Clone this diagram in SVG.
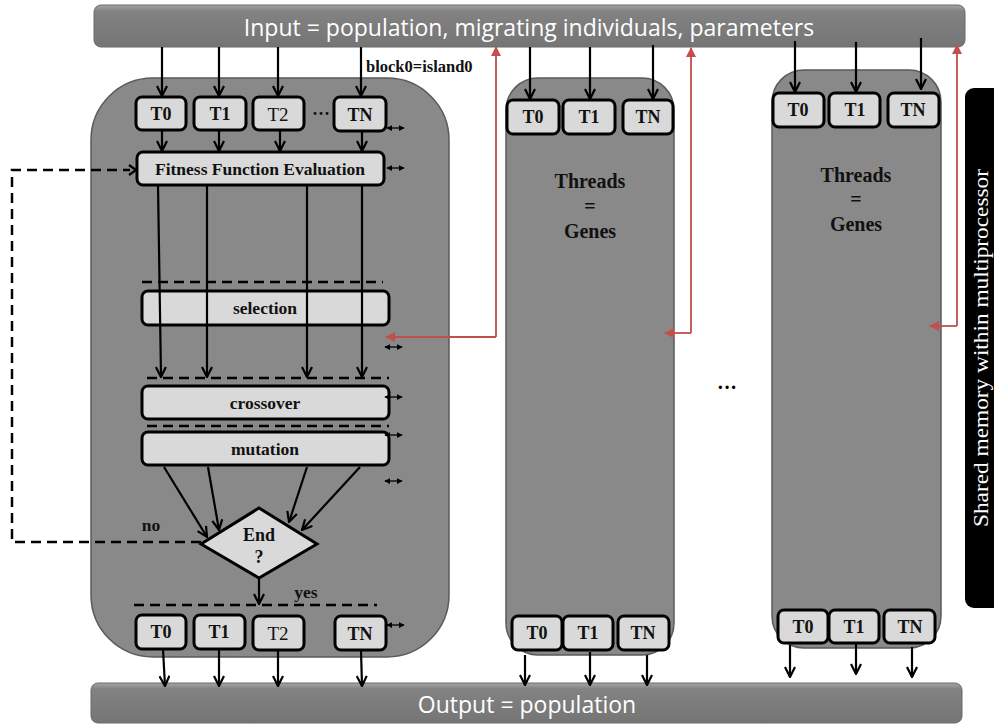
<svg xmlns="http://www.w3.org/2000/svg" width="994" height="726" viewBox="0 0 994 726">
<defs>
<marker id="ah" viewBox="0 0 12 12" refX="11" refY="6" markerWidth="12" markerHeight="12" markerUnits="userSpaceOnUse" orient="auto">
<path d="M1,1 L11,6 L1,11" fill="none" stroke="#000" stroke-width="2.2"/>
</marker>
<marker id="sm" viewBox="0 0 8 8" refX="7" refY="4" markerWidth="6" markerHeight="6" markerUnits="userSpaceOnUse" orient="auto-start-reverse">
<path d="M0,0 L8,4 L0,8 Z" fill="#000"/>
</marker>
<marker id="rd" viewBox="0 0 10 10" refX="9" refY="5" markerWidth="10" markerHeight="10" markerUnits="userSpaceOnUse" orient="auto">
<path d="M0,0 L10,5 L0,10 Z" fill="#c0504d"/>
</marker>
<linearGradient id="bar" x1="0" y1="0" x2="0" y2="1">
<stop offset="0" stop-color="#a6a6a6"/>
<stop offset="0.15" stop-color="#828282"/>
<stop offset="1" stop-color="#757575"/>
</linearGradient>
</defs>
<style>
.panel{fill:#898989;stroke:#5a5a5a;stroke-width:1.5}
.bar{fill:url(#bar);stroke:#6a6a6a;stroke-width:1}
.box{fill:#d9d9d9;stroke:#000;stroke-width:3}
.t{font-family:"Liberation Serif",serif;font-weight:bold;font-size:18px;fill:#111;text-anchor:middle}
.s{font-family:"Liberation Serif",serif;font-weight:bold;font-size:17.5px;fill:#111;text-anchor:middle}
.tn{font-family:"Liberation Serif",serif;font-size:19px;fill:#111;text-anchor:middle}
.big{font-family:"Open Sans","Liberation Sans",sans-serif;font-size:23px;fill:#fff;text-anchor:middle}
.lbl{font-family:"Liberation Serif",serif;font-weight:bold;font-size:20px;fill:#111;text-anchor:middle}
.a{stroke:#000;stroke-width:2.2;fill:none;marker-end:url(#ah)}
.d{stroke:#000;stroke-width:1.3;fill:none;marker-start:url(#sm);marker-end:url(#sm)}
.dash{stroke:#000;stroke-width:2.5;stroke-dasharray:10,6;fill:none}
.red{stroke:#c0504d;stroke-width:1.8;fill:none;marker-end:url(#rd)}
</style>

<g id="input">
<rect class="bar" x="94" y="5" width="871" height="42" rx="7"/>
<text class="big" x="529" y="36">Input = population, migrating individuals, parameters</text>
</g>
<g id="output">
<rect class="bar" x="91" y="683" width="871" height="40" rx="7"/>
<text class="big" x="527" y="713">Output = population</text>
</g>

<g id="block0">
<rect class="panel" x="91" y="78" width="358" height="579" rx="62"/>
<text x="366" y="72" font-family="Liberation Serif,serif" font-weight="bold" font-size="16.5" fill="#111">block0=island0</text>
</g>
<g id="block1">
<rect class="panel" x="506" y="78" width="168" height="577" rx="32"/>
<text class="lbl" x="590" y="188">Threads</text>
<text class="lbl" x="590" y="213">=</text>
<text class="lbl" x="590" y="238">Genes</text>
</g>
<g id="blockN">
<rect class="panel" x="772" y="70" width="169" height="578" rx="32"/>
<text class="lbl" x="856" y="182">Threads</text>
<text class="lbl" x="856" y="206">=</text>
<text class="lbl" x="856" y="231">Genes</text>
</g>

<g id="b0-top-threads">
<rect class="box" x="136" y="97" width="50" height="33" rx="6"/><text class="t" x="161" y="120">T0</text>
<rect class="box" x="194" y="97" width="52" height="33" rx="6"/><text class="t" x="220" y="120">T1</text>
<rect class="box" x="253" y="97" width="51" height="33" rx="6"/><text class="tn" x="278" y="121">T2</text>
<text class="t" x="321" y="120">···</text>
<rect class="box" x="334" y="97" width="52" height="34" rx="6"/><text class="t" x="360" y="121">TN</text>
</g>
<g id="fitness">
<rect class="box" x="137" y="152" width="247" height="33" rx="6"/>
<text class="s" x="260" y="175">Fitness Function  Evaluation</text>
</g>
<g id="selection">
<rect class="box" x="142" y="291" width="247" height="34" rx="6"/>
<text class="s" x="265" y="314">selection</text>
</g>
<g id="crossover">
<rect class="box" x="142" y="386" width="247" height="33" rx="6"/>
<text class="s" x="265" y="409">crossover</text>
</g>
<g id="mutation">
<rect class="box" x="142" y="432" width="247" height="33" rx="6"/>
<text class="s" x="265" y="455">mutation</text>
</g>
<g id="end">
<polygon points="201,544 259,508 317,544 259,578" fill="#d9d9d9" stroke="#000" stroke-width="3"/>
<text class="t" x="259" y="541">End</text>
<text class="t" x="259" y="563">?</text>
<text class="s" x="151" y="531">no</text>
<text class="s" x="306" y="598">yes</text>
</g>
<g id="b0-bottom-threads">
<rect class="box" x="136" y="615" width="50" height="34" rx="6"/><text class="t" x="161" y="638">T0</text>
<rect class="box" x="194" y="615" width="51" height="34" rx="6"/><text class="t" x="219" y="638">T1</text>
<rect class="box" x="253" y="616" width="51" height="34" rx="6"/><text class="tn" x="278" y="640">T2</text>
<rect class="box" x="335" y="616" width="51" height="34" rx="6"/><text class="t" x="360" y="640">TN</text>
</g>
<g id="b1-top-threads">
<rect class="box" x="507" y="100" width="52" height="34" rx="6"/><text class="t" x="533" y="123">T0</text>
<rect class="box" x="563" y="100" width="52" height="34" rx="6"/><text class="t" x="589" y="123">T1</text>
<rect class="box" x="623" y="100" width="50" height="34" rx="6"/><text class="t" x="648" y="123">TN</text>
</g>
<g id="b1-bottom-threads">
<rect class="box" x="512" y="616" width="50" height="34" rx="6"/><text class="t" x="537" y="639">T0</text>
<rect class="box" x="563" y="616" width="50" height="34" rx="6"/><text class="t" x="588" y="639">T1</text>
<rect class="box" x="618" y="616" width="51" height="34" rx="6"/><text class="t" x="643" y="639">TN</text>
</g>
<g id="bN-top-threads">
<rect class="box" x="773" y="93" width="51" height="34" rx="6"/><text class="t" x="798" y="116">T0</text>
<rect class="box" x="829" y="93" width="51" height="34" rx="6"/><text class="t" x="855" y="116">T1</text>
<rect class="box" x="888" y="93" width="51" height="34" rx="6"/><text class="t" x="913" y="116">TN</text>
</g>
<g id="bN-bottom-threads">
<rect class="box" x="778" y="610" width="50" height="33" rx="6"/><text class="t" x="803" y="633">T0</text>
<rect class="box" x="829" y="610" width="50" height="33" rx="6"/><text class="t" x="854" y="633">T1</text>
<rect class="box" x="884" y="610" width="51" height="33" rx="6"/><text class="t" x="910" y="633">TN</text>
</g>
<g id="ellipsis">
<text x="727" y="394" font-family="Liberation Serif,serif" font-weight="bold" font-size="20" fill="#000" text-anchor="middle">···</text>
</g>
<g id="shared-memory">
<rect x="965" y="88" width="40" height="520" rx="9" fill="#000"/>
<text transform="translate(988,348) rotate(-90)" x="0" y="0" font-family="Liberation Serif,serif" font-size="20" fill="#fff" text-anchor="middle" textLength="358" lengthAdjust="spacingAndGlyphs">Shared memory within multiprocessor</text>
</g>

<g id="connectors">
<line class="a" x1="162" y1="47" x2="162" y2="96"/>
<line class="a" x1="219" y1="47" x2="219" y2="96"/>
<line class="a" x1="278" y1="47" x2="278" y2="96"/>
<line class="a" x1="361" y1="47" x2="361" y2="96"/>
<line class="a" x1="162" y1="130" x2="162" y2="151"/>
<line class="a" x1="219" y1="130" x2="219" y2="151"/>
<line class="a" x1="280" y1="130" x2="280" y2="151"/>
<line class="a" x1="362" y1="131" x2="362" y2="151"/>
<line class="a" x1="158" y1="185" x2="161" y2="377"/>
<line class="a" x1="207" y1="185" x2="207" y2="377"/>
<line class="a" x1="307" y1="185" x2="307" y2="377"/>
<line class="a" x1="362" y1="185" x2="362" y2="377"/>
<line class="a" x1="164" y1="467" x2="207" y2="537"/>
<line class="a" x1="208" y1="467" x2="219" y2="530"/>
<line class="a" x1="307" y1="467" x2="289" y2="522"/>
<line class="a" x1="360" y1="467" x2="302" y2="530"/>
<line class="a" x1="259" y1="578" x2="259" y2="604"/>
<line class="dash" x1="142" y1="282" x2="383" y2="282"/>
<line class="dash" x1="147" y1="378" x2="389" y2="378"/>
<line class="dash" x1="147" y1="426" x2="389" y2="426"/>
<line class="dash" x1="134" y1="605" x2="377" y2="605"/>
<path class="dash" d="M201,542 L12,542 L12,170 L130,170"/>
<path d="M129,165 L136,170 L129,175" fill="none" stroke="#000" stroke-width="2.2"/>
<line class="d" x1="387" y1="128" x2="404" y2="128"/>
<line class="d" x1="387" y1="168" x2="404" y2="168"/>
<line class="d" x1="385" y1="347" x2="402" y2="347"/>
<line class="d" x1="385" y1="397" x2="402" y2="397"/>
<line class="d" x1="385" y1="435" x2="402" y2="435"/>
<line class="d" x1="385" y1="481" x2="402" y2="481"/>
<line class="d" x1="387" y1="625" x2="404" y2="625"/>
<line class="a" x1="163" y1="649" x2="165" y2="686"/>
<line class="a" x1="219" y1="649" x2="219" y2="686"/>
<line class="a" x1="278" y1="650" x2="278" y2="686"/>
<line class="a" x1="361" y1="650" x2="362" y2="686"/>
<line class="a" x1="530" y1="47" x2="530" y2="99"/>
<line class="a" x1="590" y1="47" x2="590" y2="99"/>
<line class="a" x1="653" y1="45" x2="653" y2="99"/>
<line class="a" x1="525" y1="655" x2="525" y2="685"/>
<line class="a" x1="590" y1="652" x2="590" y2="685"/>
<line class="a" x1="647" y1="655" x2="647" y2="685"/>
<line class="a" x1="795" y1="41" x2="795" y2="92"/>
<line class="a" x1="856" y1="42" x2="856" y2="92"/>
<line class="a" x1="921" y1="38" x2="921" y2="89"/>
<line class="a" x1="790" y1="645" x2="790" y2="677"/>
<line class="a" x1="856" y1="643" x2="856" y2="674"/>
<line class="a" x1="912" y1="647" x2="912" y2="677"/>
<path class="red" d="M496,337 L496,47"/>
<path class="red" d="M496,337 L386,337"/>
<path class="red" d="M691,333 L691,48"/>
<path class="red" d="M691,333 L665,333"/>
<path class="red" d="M957,326 L957,45"/>
<path class="red" d="M957,326 L930,326"/>
</g>
</svg>
